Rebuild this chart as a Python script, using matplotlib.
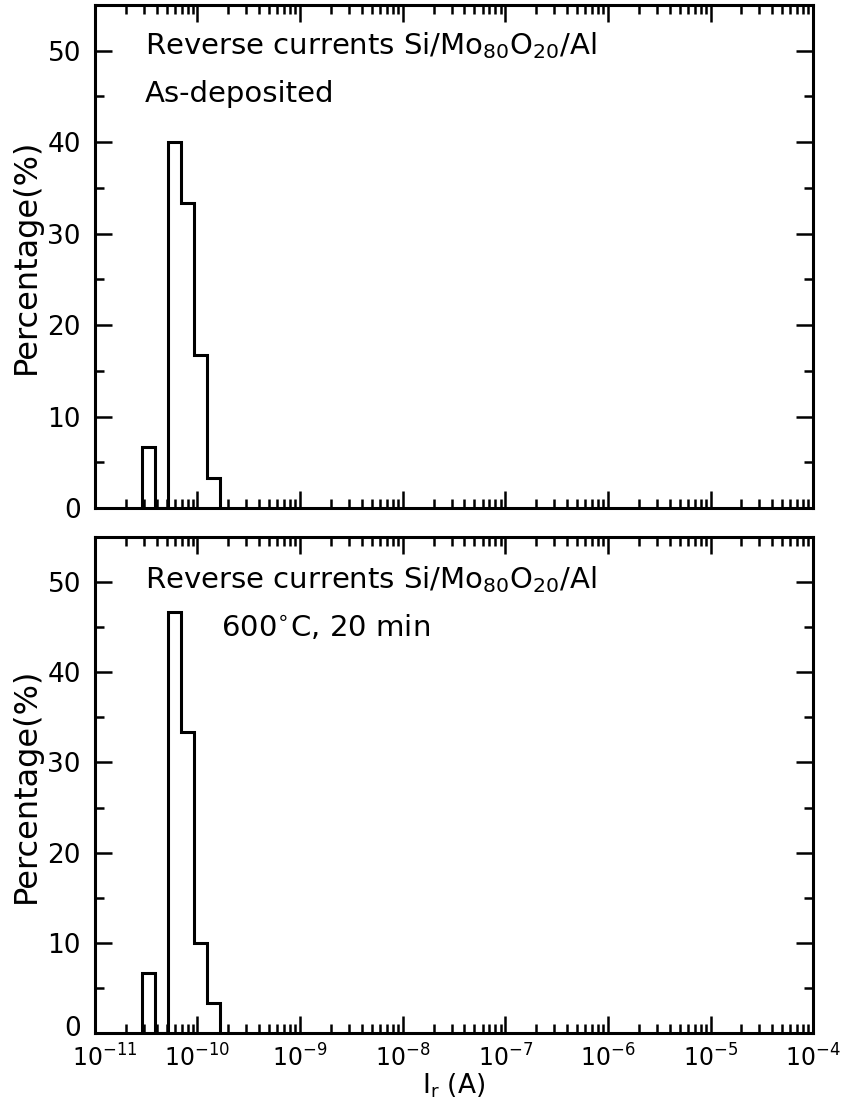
import matplotlib
matplotlib.use("Agg")
import matplotlib.pyplot as plt
import matplotlib.transforms as mtransforms
from matplotlib.ticker import LogLocator, MultipleLocator, NullFormatter

# histogram bin edges (A) and percentages
bin_edges = [2.85e-11, 3.82e-11, 5.12e-11, 6.85e-11, 9.18e-11, 1.23e-10, 1.65e-10]
pct_as_dep = [6.67, 0, 40.0, 33.33, 16.67, 3.33]
pct_annealed = [6.67, 0, 46.67, 33.33, 10.0, 3.33]

titles = ["Reverse currents Si/Mo$_{80}$O$_{20}$/Al",
          "Reverse currents Si/Mo$_{80}$O$_{20}$/Al"]
subtitles = ["As-deposited", "600$^{\\circ}$C, 20 min"]

plt.rcParams['font.family'] = ['DejaVu Sans']
plt.rcParams['mathtext.default'] = 'regular'

fig = plt.figure(figsize=(8.47, 11.13), dpi=100)
ax1 = fig.add_axes([0.112, 0.5436, 0.848, 0.452])
ax2 = fig.add_axes([0.112, 0.0719, 0.848, 0.4456])


def style_axis(ax):
    ax.set_xscale('log')
    ax.set_xlim(1e-11, 1e-4)
    ax.set_ylim(0, 55)
    ax.xaxis.set_major_locator(LogLocator(base=10, numticks=20))
    ax.xaxis.set_minor_locator(LogLocator(base=10, subs=range(2, 10), numticks=20))
    ax.xaxis.set_minor_formatter(NullFormatter())
    ax.yaxis.set_major_locator(MultipleLocator(10))
    ax.yaxis.set_minor_locator(MultipleLocator(5))
    ax.tick_params(which='both', direction='in', top=True, right=True, width=1.8)
    ax.tick_params(which='major', length=12, labelsize=19)
    ax.tick_params(which='minor', length=6.5)
    ax.tick_params(axis='y', pad=10)
    ax.tick_params(axis='x', pad=8)
    for s in ax.spines.values():
        s.set_linewidth(2.2)
    ax.set_ylabel("Percentage(%)", fontsize=23, labelpad=4)


for ax, vals, t, st, sx, y1, y2 in [(ax1, pct_as_dep, titles[0], subtitles[0], 0.07, 50.5, 45.3),
                                     (ax2, pct_annealed, titles[1], subtitles[1], 0.175, 50.3, 45.0)]:
    style_axis(ax)
    ax.stairs(vals, bin_edges, baseline=0, fill=False, color='black', linewidth=2.2)
    ax.text(0.07, y1, t, transform=ax.get_yaxis_transform(), fontsize=21,
            va='center', ha='left')
    ax.text(sx, y2, st, transform=ax.get_yaxis_transform(), fontsize=21,
            va='center', ha='left')

ax1.tick_params(labelbottom=False)
ax2.tick_params(axis='x', labelsize=17)
ax2.set_xlabel(r"$\mathrm{I}_{\mathrm{r}}$ (A)", fontsize=19, labelpad=0)

# nudge the corner labels apart a little (the "0" sits slightly high, 10^-11 slightly right)
fig.canvas.draw()
for tk in ax2.yaxis.get_major_ticks():
    if abs(tk.get_loc()) < 1e-9:
        tk.label1.set_transform(tk.label1.get_transform() +
                                mtransforms.ScaledTranslation(0, 5 / 72, fig.dpi_scale_trans))
for tk in ax2.xaxis.get_major_ticks():
    if abs(tk.get_loc() - 1e-11) < 1e-13:
        tk.label1.set_transform(tk.label1.get_transform() +
                                mtransforms.ScaledTranslation(7 / 72, 0, fig.dpi_scale_trans))

fig.savefig("out.png", dpi=100)
